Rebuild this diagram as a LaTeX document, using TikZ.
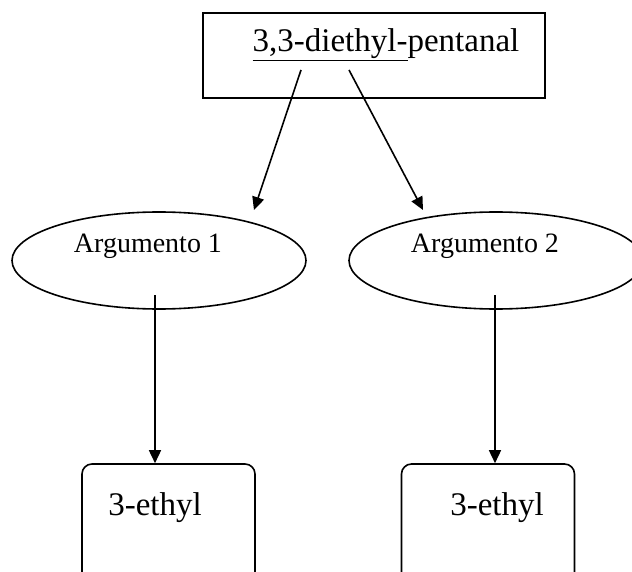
\documentclass[tikz,border=0pt]{standalone}
\usepackage{fontspec}
\setmainfont{Liberation Serif}
\usetikzlibrary{shapes.geometric,arrows.meta}

\tikzset{
  edge/.style={draw=black, line width=1.6pt},
  link/.style={edge, -{Triangle[length=13pt,width=12pt]}},
  titlebox/.style={edge, rectangle, fill=white, minimum width=342pt, minimum height=85pt, inner sep=0pt},
  argell/.style={edge, ellipse, fill=white, minimum width=294pt, minimum height=97pt, inner sep=0pt},
  leafbox/.style={edge, rectangle, rounded corners=10pt, fill=white, minimum width=173pt, minimum height=150pt, inner sep=0pt},
  bigtext/.style={font=\fontsize{33pt}{36pt}\selectfont, inner sep=0pt, anchor=base},
  argtext/.style={font=\fontsize{28pt}{30pt}\selectfont, inner sep=0pt, anchor=base},
}

\begin{document}
\begin{tikzpicture}[x=1pt, y=-1pt]
  \useasboundingbox (0,0) rectangle (632,572);
  \fill[white] (0,0) rectangle (632,572);
  \clip (0,0) rectangle (632,572);

  % title box
  \node[titlebox] (top) at (374,55.5) {};
  \node[bigtext] (toptext) at (386,52) {\underline{3,3-diethyl-}pentanal};

  % two argument ellipses
  \node[argell] (arg1) at (159,260.5) {};
  \node[argtext] (arg1text) at (148,253) {Argumento 1};
  \node[argell] (arg2) at (496,260.5) {};
  \node[argtext] (arg2text) at (485,253) {Argumento 2};

  % result boxes (run past the lower edge)
  \node[leafbox] (res1) at (168.5,539) {};
  \node[bigtext] (res1text) at (155,515) {3-ethyl};
  \node[leafbox] (res2) at (488,539) {};
  \node[bigtext] (res2text) at (497,515) {3-ethyl};

  % connector end points
  \coordinate (s1) at (301,70);
  \coordinate (e1) at (254,210);
  \coordinate (s2) at (349,70);
  \coordinate (e2) at (423,210);
  \coordinate (s3) at (155,295);
  \coordinate (s4) at (495,295);

  \draw[link] (s1) -- (e1);
  \draw[link] (s2) -- (e2);
  \draw[link] (s3) -- (s3 |- res1.north);
  \draw[link] (s4) -- (s4 |- res2.north);
\end{tikzpicture}
\end{document}
